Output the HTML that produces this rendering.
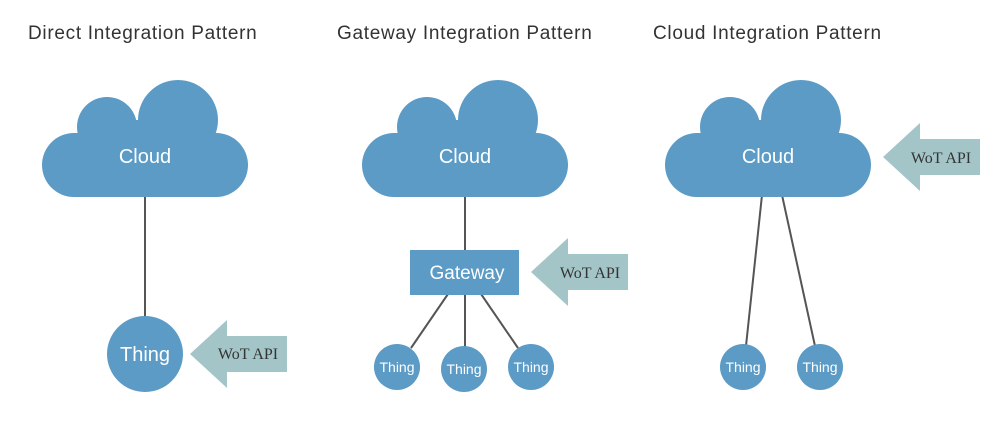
<!DOCTYPE html>
<html><head><style>
html,body{margin:0;padding:0;background:#fff;}
svg{display:block;}
.t{font-family:"Liberation Sans",sans-serif;font-size:19px;letter-spacing:0.7px;fill:#333;}
.w{font-family:"Liberation Sans",sans-serif;fill:#fff;text-anchor:middle;}
.a{font-family:"Liberation Serif",serif;font-size:16px;fill:#333;text-anchor:middle;}
</style></head><body>
<svg width="1000" height="426" viewBox="0 0 1000 426" xmlns="http://www.w3.org/2000/svg">
<defs>
<g id="cloud" fill="#5b9bc6">
<circle cx="65" cy="47" r="30"/>
<circle cx="136" cy="40" r="40"/>
<circle cx="32" cy="85" r="32"/>
<circle cx="174" cy="85" r="32"/>
<rect x="32" y="53" width="142" height="64"/>
<rect x="60" y="40" width="80" height="20"/>
</g>
<g id="arrow" fill="#a3c5c8">
<polygon points="0,0 37,-34 37,-18 97,-18 97,18 37,18 37,34"/>
</g>
</defs>
<text class="t" x="28" y="39">Direct Integration Pattern</text>
<text class="t" x="337" y="39">Gateway Integration Pattern</text>
<text class="t" x="653" y="39">Cloud Integration Pattern</text>

<g stroke="#555" stroke-width="2">
<line x1="145" y1="195" x2="145" y2="320"/>
<line x1="465" y1="195" x2="465" y2="252"/>
<line x1="448" y1="294" x2="411" y2="348"/>
<line x1="465" y1="294" x2="465" y2="348"/>
<line x1="481" y1="294" x2="518" y2="348"/>
<line x1="762" y1="195" x2="746" y2="346"/>
<line x1="782" y1="195" x2="815" y2="346"/>
</g>

<use href="#cloud" x="42" y="80"/>
<use href="#cloud" x="362" y="80"/>
<use href="#cloud" x="665" y="80"/>
<text class="w" x="145" y="163" font-size="20">Cloud</text>
<text class="w" x="465" y="163" font-size="20">Cloud</text>
<text class="w" x="768" y="163" font-size="20">Cloud</text>

<circle cx="145" cy="354" r="38" fill="#5b9bc6"/>
<text class="w" x="145" y="361" font-size="20">Thing</text>
<use href="#arrow" x="190" y="354"/>
<text class="a" x="248" y="359">WoT API</text>

<rect x="410" y="250" width="109" height="45" fill="#5b9bc6"/>
<text class="w" x="467" y="279" font-size="19">Gateway</text>
<use href="#arrow" x="531" y="272"/>
<text class="a" x="590" y="278">WoT API</text>
<circle cx="397" cy="367" r="23" fill="#5b9bc6"/>
<circle cx="464" cy="369" r="23" fill="#5b9bc6"/>
<circle cx="531" cy="367" r="23" fill="#5b9bc6"/>
<text class="w" x="397" y="372" font-size="14">Thing</text>
<text class="w" x="464" y="374" font-size="14">Thing</text>
<text class="w" x="531" y="372" font-size="14">Thing</text>

<use href="#arrow" x="883" y="157"/>
<text class="a" x="941" y="163">WoT API</text>
<circle cx="743" cy="367" r="23" fill="#5b9bc6"/>
<circle cx="820" cy="367" r="23" fill="#5b9bc6"/>
<text class="w" x="743" y="372" font-size="14">Thing</text>
<text class="w" x="820" y="372" font-size="14">Thing</text>
</svg>
</body></html>
